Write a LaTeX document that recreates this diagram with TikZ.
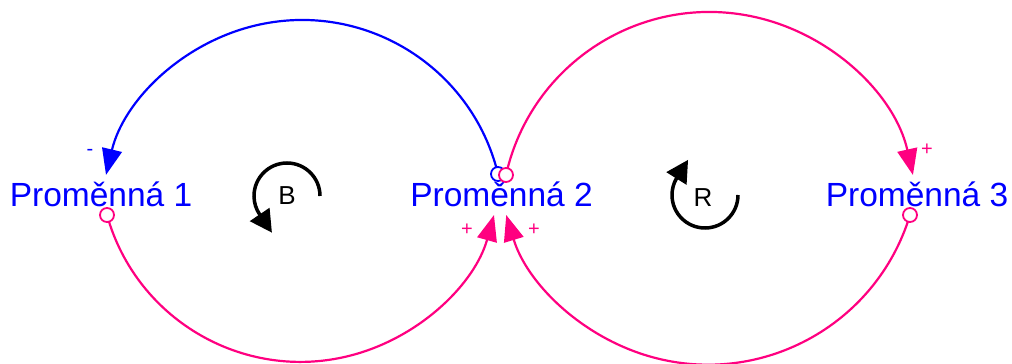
\documentclass[tikz,border=0pt]{standalone}
\usepackage{fontspec}
\setmainfont{Liberation Sans}
\usetikzlibrary{arrows.meta}
\definecolor{vblue}{RGB}{0,0,255}
\definecolor{vpink}{RGB}{255,0,128}
\tikzset{
  var/.style={anchor=base, text=vblue, inner sep=0pt, font=\fontsize{33.5}{40}\selectfont},
  link/.style={line width=2.2pt, -{Triangle[length=26pt,width=20pt]}},
  hole/.style={fill=white, line width=1.8pt, circle, minimum size=14pt, inner sep=0pt},
  pol/.style={inner sep=0pt, font=\fontsize{20}{24}\selectfont},
  loop/.style={line width=3.5pt, black, -{Triangle[length=22pt,width=23pt]}},
  looplabel/.style={inner sep=0pt, font=\fontsize{26}{31}\selectfont}
}
\begin{document}
\begin{tikzpicture}[x=1pt,y=1pt]
\useasboundingbox (0,0) rectangle (1012,364);
\clip (0,0) rectangle (1012,364);
% variables
\node[var] (v1) at (101,157) {Proměnná 1};
\node[var] (v2) at (501.5,157) {Proměnná 2};
\node[var] (v3) at (917,157) {Proměnná 3};
% link start points
\coordinate (s21) at (498,190);
\coordinate (s23) at (506,189);
\coordinate (s12) at (107,149);
\coordinate (s32) at (910,149);
% arcs
\draw[link, vblue] (s21) arc[start angle=13.66, end angle=166.6, radius=201.6];
\draw[link, vpink] (s12) arc[start angle=195.6, end angle=344.4, radius=200.9];
\draw[link, vpink] (s23) arc[start angle=167.4, end angle=12.6, radius=208.5];
\draw[link, vpink] (s32) arc[start angle=-16.9, end angle=-163.1, radius=211];
% link origins
\node[hole, draw=vpink] (o12) at (s12) {};
\node[hole, draw=vblue] (o21) at (s21) {};
\node[hole, draw=vpink] (o23) at (s23) {};
\node[hole, draw=vpink] (o32) at (s32) {};
% polarities
\node[pol, text=vblue] (p1) at (90,212) {-};
\node[pol, text=vpink] (p3) at (927,214) {+};
\node[pol, text=vpink] (p2a) at (467,134) {+};
\node[pol, text=vpink] (p2b) at (534,134) {+};
% loop markers
\node[looplabel] (B) at (287,168) {B};
\coordinate (bs) at (320,168);
\draw[loop] (bs) arc[start angle=0, end angle=214, radius=33] -- ++(-56:22);
\node[looplabel] (R) at (703,166) {R};
\coordinate (rs) at (738,169);
\draw[loop] (rs) arc[start angle=0, end angle=-210, radius=33] -- ++(58:22);
\end{tikzpicture}
\end{document}
